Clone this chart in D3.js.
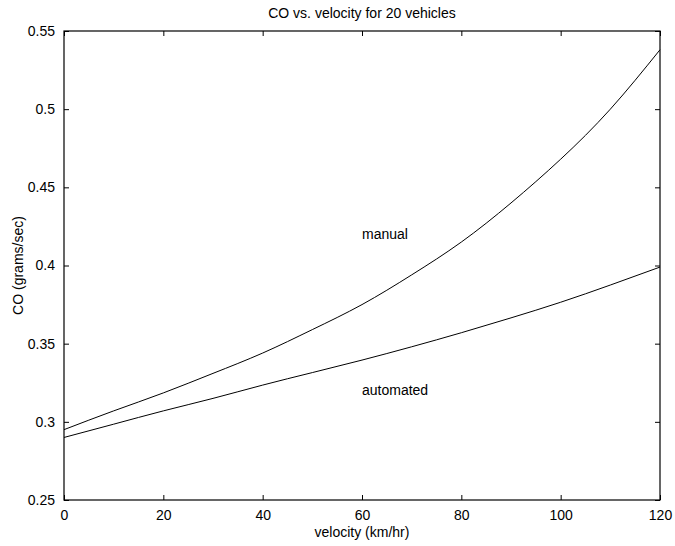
<!DOCTYPE html>
<html>
<head>
<meta charset="utf-8">
<script src="https://cdn.jsdelivr.net/npm/d3@7"></script>
<style>
  body { margin: 0; background: #fff; }
  svg text { font-family: "Liberation Sans", Arial, sans-serif; fill: #000; }
</style>
</head>
<body>
<div id="chart"></div>
<script>
// velocity samples (km/hr)
var velocity = [0, 10, 20, 30, 40, 50, 60, 70, 80, 90, 100, 110, 120];
// CO emissions (grams/sec)
var manual    = [0.295, 0.307, 0.3185, 0.331, 0.344, 0.359, 0.375, 0.394, 0.415, 0.440, 0.468, 0.500, 0.538];
var automated = [0.290, 0.2985, 0.307, 0.315, 0.3235, 0.3315, 0.3395, 0.348, 0.357, 0.3665, 0.3765, 0.3875, 0.399];

var xTicks = [0, 20, 40, 60, 80, 100, 120];
var yTicks = [0.25, 0.3, 0.35, 0.4, 0.45, 0.5, 0.55];
var yTickLabels = ["0.25", "0.3", "0.35", "0.4", "0.45", "0.5", "0.55"];

var labels = [
	{text: "manual", x: 60, y: 0.42},
	{text: "automated", x: 60, y: 0.32}
];

var W = 675, H = 546;
var margin = {top: 31, right: 15, bottom: 46, left: 64};
var width = W - margin.left - margin.right,
	height = H - margin.top - margin.bottom;

var svg = d3.select("#chart").append("svg")
	.attr("width", W)
	.attr("height", H);

var g = svg.append("g")
	.attr("transform", "translate(" + margin.left + "," + margin.top + ")");

var x = d3.scaleLinear().domain([0, 120]).range([0, width]);
var y = d3.scaleLinear().domain([0.25, 0.55]).range([height, 0]);

// box
g.append("rect")
	.attr("width", width)
	.attr("height", height)
	.attr("fill", "none")
	.attr("stroke", "#000")
	.attr("stroke-width", 1.2);

var tickLen = 5;

// bottom axis (ticks inside)
var xAxis = g.append("g")
	.attr("transform", "translate(0," + height + ")")
	.call(d3.axisBottom(x).tickValues(xTicks).tickSize(-tickLen).tickPadding(10).tickFormat(d3.format("d")));
// top ticks
var xTop = g.append("g")
	.call(d3.axisTop(x).tickValues(xTicks).tickSize(-tickLen).tickFormat(""));
// left axis
var yAxis = g.append("g")
	.call(d3.axisLeft(y).tickValues(yTicks).tickSize(-tickLen).tickPadding(9)
		.tickFormat(function(d, i) { return yTickLabels[i]; }));
// right ticks
var yRight = g.append("g")
	.attr("transform", "translate(" + width + ",0)")
	.call(d3.axisRight(y).tickValues(yTicks).tickSize(-tickLen).tickFormat(""));

[xAxis, xTop, yAxis, yRight].forEach(function(a) {
	a.select(".domain").remove();
	a.selectAll("line").attr("stroke", "#000");
	a.selectAll("text")
		.style("font-size", "14px")
		.style("font-family", "'Liberation Sans', Arial, sans-serif")
		.attr("fill", "#000");
});

// curves
var line = d3.line()
	.x(function(d, i) { return x(velocity[i]); })
	.y(function(d) { return y(d); })
	.curve(d3.curveNatural);

[manual, automated].forEach(function(series) {
	g.append("path")
		.datum(series)
		.attr("fill", "none")
		.attr("stroke", "#000")
		.attr("stroke-width", 1)
		.attr("d", line);
});

// text annotations
g.selectAll(".lbl")
	.data(labels)
  .enter().append("text")
	.attr("class", "lbl")
	.attr("x", function(d) { return x(d.x); })
	.attr("y", function(d) { return y(d.y); })
	.attr("dy", "0.35em")
	.style("font-size", "14px")
	.text(function(d) { return d.text; });

// title
svg.append("text")
	.attr("x", margin.left + width / 2)
	.attr("y", 18)
	.attr("text-anchor", "middle")
	.style("font-size", "14px")
	.text("CO vs. velocity for 20 vehicles");

// x label
svg.append("text")
	.attr("x", margin.left + width / 2)
	.attr("y", 537)
	.attr("text-anchor", "middle")
	.style("font-size", "14px")
	.text("velocity (km/hr)");

// y label
svg.append("text")
	.attr("transform", "translate(23," + (margin.top + height / 2) + ") rotate(-90)")
	.attr("text-anchor", "middle")
	.style("font-size", "14px")
	.text("CO (grams/sec)");
</script>
</body>
</html>
